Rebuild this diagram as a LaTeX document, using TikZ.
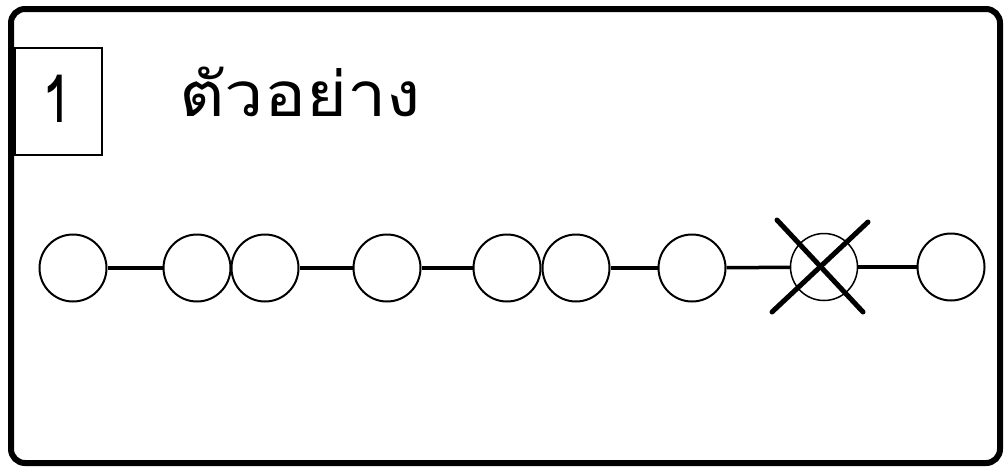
\documentclass[tikz,border=0pt]{standalone}
\usepackage{fontspec}
\usepackage{graphicx}
\newfontfamily\thaifont[Script=Thai]{Loma}
\begin{document}
\begin{tikzpicture}[x=1pt,y=-1pt,
  bead/.style={circle,draw,line width=2pt,minimum size=67pt,inner sep=0pt},
  link/.style={line width=3.5pt},
  strike/.style={line width=5pt,line cap=round}]
\useasboundingbox (0,0) rectangle (1008,472);
\fill[white] (0,0) rectangle (1008,472);
\draw[line width=6pt,rounded corners=14pt] (11,9) rectangle (1000,463);
\node[draw,line width=1.5pt,minimum width=87pt,minimum height=107pt,inner sep=0pt] (numbox) at (58.5,101.5) {};
\node[inner sep=0pt,anchor=base] (num) at (57,122) {\scalebox{0.8}[1]{\thaifont\fontsize{66}{66}\selectfont 1}};
\node[inner sep=0pt,anchor=base west] (title) at (179,116) {\scalebox{1.13}[1]{\thaifont\fontsize{62}{64}\selectfont ตัวอย่าง}};
\node[bead] (c1) at (73,268) {};
\node[bead] (c2) at (197,268) {};
\node[bead] (c3) at (265,268) {};
\node[bead] (c4) at (387,268) {};
\node[bead] (c5) at (507,268) {};
\node[bead] (c6) at (576,268) {};
\node[bead] (c7) at (692,268) {};
\node[bead,line width=1.5pt] (c8) at (824,267) {};
\node[bead] (c9) at (951,267) {};
\draw[link] (c1) -- (c2);
\draw[link] (c3) -- (c4);
\draw[link] (c4) -- (c5);
\draw[link] (c6) -- (c7);
\draw[link] (c7) -- (c8);
\draw[link] (c8) -- (c9);
\coordinate (xa) at (777,220);
\coordinate (xb) at (863,312);
\coordinate (xc) at (868,222);
\coordinate (xd) at (772,312);
\draw[strike] (xa) -- (xb);
\draw[strike] (xc) -- (xd);
\end{tikzpicture}
\end{document}
